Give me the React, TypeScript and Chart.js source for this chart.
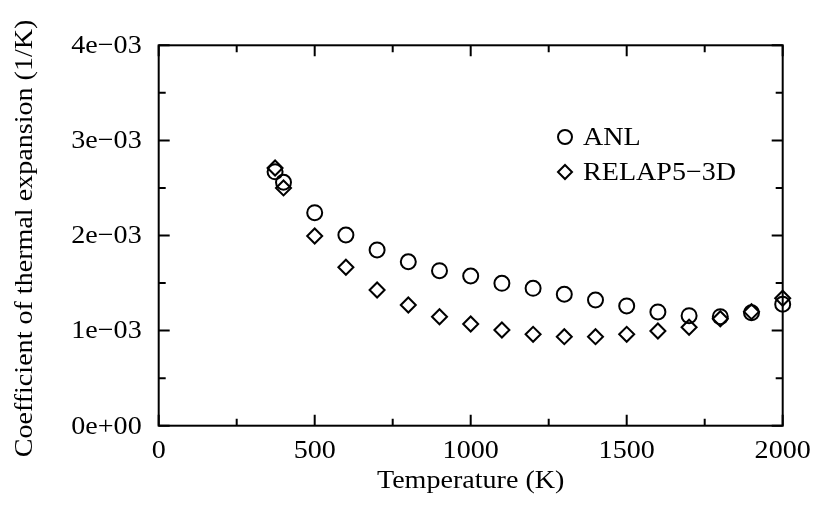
import React, { useEffect, useRef } from "react";
import { Chart, registerables } from "chart.js";

Chart.register(...registerables);

const temperatures = [373, 400, 500, 600, 700, 800, 900, 1000, 1100, 1200, 1300, 1400, 1500, 1600, 1700, 1800, 1900, 2000];
const anlValues = [2.67e-3, 2.56e-3, 2.24e-3, 2.005e-3, 1.848e-3, 1.724e-3, 1.63e-3, 1.574e-3, 1.497e-3, 1.445e-3, 1.382e-3, 1.322e-3, 1.259e-3, 1.196e-3, 1.157e-3, 1.146e-3, 1.188e-3, 1.277e-3];
const relapValues = [2.71e-3, 2.5e-3, 1.995e-3, 1.666e-3, 1.427e-3, 1.269e-3, 1.146e-3, 1.069e-3, 1.006e-3, 0.961e-3, 0.936e-3, 0.936e-3, 0.961e-3, 0.996e-3, 1.035e-3, 1.125e-3, 1.199e-3, 1.34e-3];

const xTicks = [0, 500, 1000, 1500, 2000];
const xTickLabels = ["0", "500", "1000", "1500", "2000"];
const xMinorTicks = [250, 750, 1250, 1750];
const yTicks = [0, 1e-3, 2e-3, 3e-3, 4e-3];
const yTickLabels = ["0e+00", "1e\u221203", "2e\u221203", "3e\u221203", "4e\u221203"];
const yMinorTicks = [0.5e-3, 1.5e-3, 2.5e-3, 3.5e-3];

const seriesNames = ["ANL", "RELAP5\u22123D"];
const xTitle = "Temperature (K)";
const yTitle = "Coefficient of thermal expansion (1/K)";

const FONT = "26px \"Liberation Serif\"";
const STRETCH = 1.08;

function drawText(ctx: CanvasRenderingContext2D, text: string, x: number, y: number, align: CanvasTextAlign, rot = 0) {
  ctx.save();
  ctx.translate(x, y);
  if (rot) ctx.rotate(rot);
  ctx.scale(STRETCH, 1);
  ctx.font = FONT;
  ctx.fillStyle = "#000";
  ctx.textAlign = align;
  ctx.textBaseline = "middle";
  ctx.fillText(text, 0, 0);
  ctx.restore();
}

function drawMarker(ctx: CanvasRenderingContext2D, style: string, x: number, y: number, r: number) {
  ctx.save();
  ctx.strokeStyle = "#000";
  ctx.lineWidth = 2;
  ctx.beginPath();
  if (style === "circle") {
    ctx.arc(x, y, r, 0, Math.PI * 2);
  } else {
    ctx.moveTo(x - r, y);
    ctx.lineTo(x, y - r);
    ctx.lineTo(x + r, y);
    ctx.lineTo(x, y + r);
    ctx.closePath();
  }
  ctx.stroke();
  ctx.restore();
}

const framePlugin = {
  id: "gnuFrame",
  afterDraw(chart: any) {
    const ctx: CanvasRenderingContext2D = chart.ctx;
    const xs = chart.scales.x;
    const ys = chart.scales.y;
    const { left, right, top, bottom } = chart.chartArea;
    ctx.save();
    ctx.strokeStyle = "#000";
    ctx.lineWidth = 2;
    ctx.strokeRect(left, top, right - left, bottom - top);
    const major = 11;
    const minor = 7;
    ctx.beginPath();
    const xt = (v: number, len: number) => {
      const px = xs.getPixelForValue(v);
      ctx.moveTo(px, bottom);
      ctx.lineTo(px, bottom - len);
      ctx.moveTo(px, top);
      ctx.lineTo(px, top + len);
    };
    const yt = (v: number, len: number) => {
      const py = ys.getPixelForValue(v);
      ctx.moveTo(left, py);
      ctx.lineTo(left + len, py);
      ctx.moveTo(right, py);
      ctx.lineTo(right - len, py);
    };
    xTicks.forEach((v) => xt(v, major));
    xMinorTicks.forEach((v) => xt(v, minor));
    yTicks.forEach((v) => yt(v, major));
    yMinorTicks.forEach((v) => yt(v, minor));
    ctx.stroke();
    ctx.restore();

    xTicks.forEach((v, i) => drawText(ctx, xTickLabels[i], xs.getPixelForValue(v), bottom + 25, "center"));
    yTicks.forEach((v, i) => drawText(ctx, yTickLabels[i], left - 17, ys.getPixelForValue(v) + 1, "right"));
    drawText(ctx, xTitle, (left + right) / 2, bottom + 55, "center");
    drawText(ctx, yTitle, 25, (top + bottom) / 2 + 3, "center", -Math.PI / 2);

    const styles = ["circle", "diamond"];
    const lx = 565;
    const ly = [137, 172];
    seriesNames.forEach((name, i) => {
      drawMarker(ctx, styles[i], lx, ly[i], 7);
      drawText(ctx, name, lx + 18, ly[i] + 1, "left");
    });
  },
};

export default function App() {
  const ref = useRef<HTMLCanvasElement>(null);
  useEffect(() => {
    if (!ref.current) return;
    let chart: Chart | null = null;
    let cancelled = false;
    const build = () => {
      if (cancelled || !ref.current) return;
      chart = new Chart(ref.current, {
        type: "scatter",
        data: {
          datasets: [
            {
              label: seriesNames[0],
              data: temperatures.map((t, i) => ({ x: t, y: anlValues[i] })),
              pointStyle: "circle",
              pointRadius: 7.5,
              pointBorderWidth: 2,
              pointBorderColor: "#000",
              pointBackgroundColor: "rgba(0,0,0,0)",
              showLine: false,
              clip: false as any,
            },
            {
              label: seriesNames[1],
              data: temperatures.map((t, i) => ({ x: t, y: relapValues[i] })),
              pointStyle: "rectRot",
              pointRadius: 7.5,
              pointBorderWidth: 2,
              pointBorderColor: "#000",
              pointBackgroundColor: "rgba(0,0,0,0)",
              showLine: false,
              clip: false as any,
            },
          ],
        },
        options: {
          animation: false,
          responsive: false,
          devicePixelRatio: 1,
          layout: { padding: { left: 158.7, right: 32.3, top: 45.3, bottom: 80.3 } },
          scales: {
            x: { type: "linear", min: 0, max: 2000, display: false },
            y: { type: "linear", min: 0, max: 0.004, display: false },
          },
          plugins: { legend: { display: false }, tooltip: { enabled: false } },
        },
        plugins: [framePlugin],
      });
    };
    const fonts = (document as any).fonts;
    if (fonts && fonts.load) {
      fonts.load(FONT, "Temperature 0123").then(build, build);
    } else {
      build();
    }
    return () => {
      cancelled = true;
      if (chart) chart.destroy();
    };
  }, []);
  return (
    <canvas
      ref={ref}
      width={815}
      height={506}
      style={{ position: "fixed", left: 0, top: 0, width: 815, height: 506, background: "#fff" }}
    />
  );
}
